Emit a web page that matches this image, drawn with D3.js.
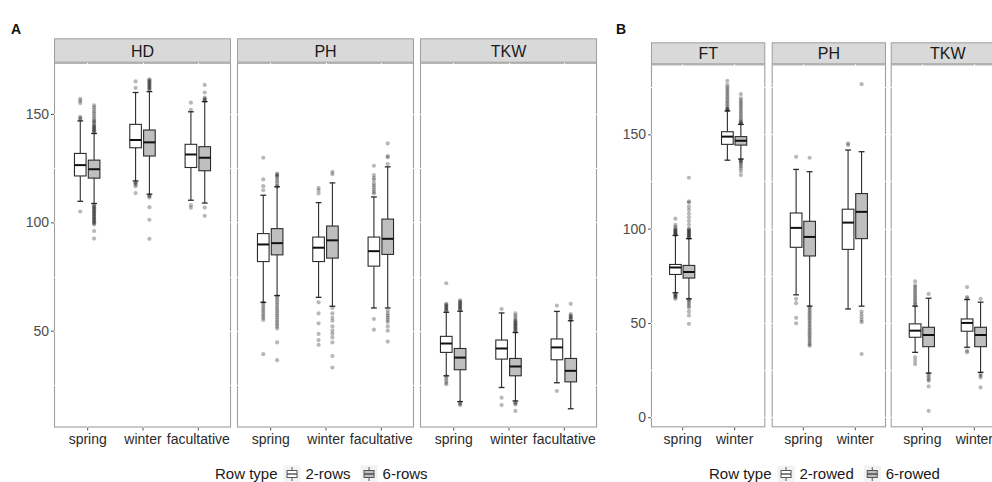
<!DOCTYPE html>
<html><head><meta charset="utf-8">
<script src="https://cdn.jsdelivr.net/npm/d3@7"></script>
<style>body{margin:0;background:#fff}svg{display:block;font-family:"Liberation Sans",Arial,sans-serif}</style>
</head><body><svg id="c" width="992" height="482"></svg>
<script>
// ---------- data ----------
const catsA = ["spring", "winter", "facultative"];
const traitsA = ["HD", "PH", "TKW"];
const rowTypesA = ["2-rows", "6-rows"];
const catsB = ["spring", "winter"];
const traitsB = ["FT", "PH", "TKW"];
const rowTypesB = ["2-rowed", "6-rowed"];
const yTicksA = [50, 100, 150];
const yTicksB = [0, 50, 100, 150];
const yMinorA = [25, 75, 125, 175];
const yMinorB = [25, 75, 125, 175];

// each row: [category, rowTypeIndex, whiskerLow, q1, median, q3, whiskerHigh, outliers]
const A_HD = [
  ["spring", 0, 109.7, 121.4, 126.4, 131.8, 146.8, [157, 156, 155, 148.7, 148, 147.5, 105]],
  ["spring", 1, 108.7, 120.4, 124.5, 128.7, 141, [154, 153, 152, 151, 150, 149, 148, 147, 146.5, 146, 145, 144.5, 144, 143.5, 143, 142.5, 142, 141.5, 108, 107.5, 107, 106.5, 106, 105.5, 105, 104.5, 104, 103.5, 103, 102.5, 102, 101.5, 101, 100.5, 100, 99.5, 99, 96, 92.5]],
  ["winter", 0, 119.1, 134.4, 138, 145.2, 159.9, [165, 162, 118.5, 118, 117.5, 116.6, 113.5]],
  ["winter", 1, 113, 130.6, 136.9, 142.6, 160.3, [166, 165.5, 165, 164.5, 164, 163.5, 163, 162.5, 162, 161.5, 161, 112.5, 112, 111.5, 107, 101.2, 92.4]],
  ["facultative", 0, 110.2, 125.3, 131.3, 136, 151, [155.2, 151.9, 107.9, 106.7]],
  ["facultative", 1, 108.9, 123.8, 129.8, 134.9, 155.7, [163.4, 159.9, 157.5, 157, 156.5, 156, 106.8, 103]]
];
const A_PH = [
  ["spring", 0, 63.1, 81.9, 89.8, 94.8, 112.5, [129.8, 119.8, 116.7, 114.8, 63, 62, 61, 60, 59, 58, 57, 56, 55, 39.2]],
  ["spring", 1, 66.2, 85, 90.4, 97.1, 116.4, [122.5, 122, 121.5, 121, 120, 119, 118, 117, 116.5, 66, 65, 64, 63, 62, 61, 60, 59, 58, 57, 56, 55, 54, 53, 52, 51, 44.6, 36.4]],
  ["winter", 0, 65.4, 81.9, 88.3, 93.2, 109.1, [115.9, 114.8, 113.3, 63.1, 58, 53.4, 48.5, 45.7, 43.5]],
  ["winter", 1, 61.3, 83.5, 91.7, 98.3, 118.2, [123.3, 122.2, 60.5, 58, 56, 54.6, 52, 50, 48.6, 46.9, 44.6, 38.3, 33]],
  ["facultative", 0, 60.5, 79.8, 86.7, 93.2, 111.7, [126.1, 121.8, 120.5, 119.5, 118, 117, 116, 115, 114, 113.3, 55.4, 50.5]],
  ["facultative", 1, 60.5, 85.2, 92.4, 101.5, 125.6, [136.4, 130.6, 130, 126.9, 59.3, 58, 57, 56, 55, 54, 52, 50, 45]]
];
const A_TKW = [
  ["spring", 0, 29.2, 40, 44.1, 47.4, 58.5, [71.9, 62.4, 62, 61.5, 61, 60.5, 60, 59.5, 59, 29, 28, 27, 26, 25.3]],
  ["spring", 1, 17.3, 32, 37.6, 41.8, 59, [64, 63.5, 63, 62.5, 62, 61.5, 61, 60.5, 60, 59.5, 16.8, 16.2, 15.7]],
  ["winter", 0, 23.8, 36.9, 41.8, 45.7, 58.2, [60, 19.1, 15.7]],
  ["winter", 1, 17.6, 29.2, 33.5, 37.2, 49.2, [58, 57, 56, 55, 54.5, 54, 53.5, 53, 52.5, 52, 51.5, 51, 50.5, 50, 49.5, 17, 16.5, 16, 13]],
  ["facultative", 0, 26, 36.6, 42.3, 46.2, 58.9, [61.6, 22.2]],
  ["facultative", 1, 14, 26.4, 31.5, 37.2, 54.6, [62.4, 57.7, 57, 56.5, 56, 55.5, 55]]
];
const B_FT = [
  ["spring", 0, 66, 75.7, 79.4, 81, 96.4, [105.3, 102, 101, 100, 99.5, 99, 98.5, 98, 97.5, 97, 96.8, 65.5, 65, 64.5, 64, 63.5, 62.8]],
  ["spring", 1, 62.8, 73.8, 77, 80.5, 94.7, [127, 114.5, 113.8, 111.7, 110, 108, 106, 104, 102, 100, 99.5, 99, 98.5, 98, 97.5, 97, 96.5, 96, 95.5, 95, 62.5, 62, 61, 60, 59, 58, 56, 54, 49.5]],
  ["winter", 0, 136.3, 144.7, 148.8, 151.4, 162.4, [178.4, 176.2, 175, 174, 173, 172, 171, 170, 169, 168, 167, 166, 165, 164, 163.5, 163, 162.8]],
  ["winter", 1, 136.9, 144.3, 146.6, 148.8, 155.3, [171.3, 169.1, 168, 167, 166, 165, 164, 163, 162, 161, 160, 159, 158, 157, 156.5, 156, 155.7, 136.5, 136, 135.5, 135, 134, 133, 132, 130.5, 128.4]]
];
const B_PH = [
  ["spring", 0, 64.9, 90.1, 100.4, 108.3, 131.4, [138.1, 62.8, 60.5, 52.7, 49.8]],
  ["spring", 1, 58.9, 85.5, 95.6, 103.9, 130.2, [137.6, 58.5, 57.5, 56.5, 55.5, 54.5, 53.5, 52.5, 51.5, 50.5, 49.5, 48.5, 47.5, 46.5, 45.5, 44.5, 43.5, 42.5, 41.5, 40.5, 39.5, 38.5, 37.9]],
  ["winter", 0, 57.4, 89, 103.2, 110.3, 141.7, [145.2, 144.3]],
  ["winter", 1, 58.9, 94.7, 108.9, 118.6, 140.8, [176.6, 56, 54.5, 53, 51.5, 50.4, 33.5]]
];
const B_TKW = [
  ["spring", 0, 34.4, 42.4, 45.9, 49.5, 58.9, [72, 69.9, 69, 68, 67, 66, 65, 64, 63, 62, 61, 60, 59.3, 31.8, 30, 28.2]],
  ["spring", 1, 23.4, 37.4, 43.6, 47.7, 63.1, [65.4, 23, 22, 21, 20, 19.3, 16.3, 3.4]],
  ["winter", 0, 37.1, 45.6, 50, 52.1, 62.4, [69, 63.7, 63, 35.3, 34.4]],
  ["winter", 1, 23.8, 37.4, 43.6, 47.7, 61, [62.8, 22.9, 22, 21.1, 15.8]]
];

// ---------- styling ----------
const fills = ["#ffffff", "#bfbfbf"];
const borderCol = "#9e9e9e";
const stripFill = "#d9d9d9";
const boxStroke = "#2b2b2b";

const svg = d3.select("#c");

function expandDomain(sets) {
  let lo = Infinity, hi = -Infinity;
  sets.forEach(s => s.forEach(r => {
    lo = Math.min(lo, r[2], ...r[7]);
    hi = Math.max(hi, r[6], ...r[7]);
  }));
  const pad = (hi - lo) * 0.05;
  return [lo - pad, hi + pad];
}

function drawRow(cfg) {
  const y = d3.scaleLinear().domain(expandDomain(cfg.sets)).range([cfg.bottom, cfg.top]);
  cfg.traits.forEach((trait, i) => {
    const left = cfg.lefts[i], right = left + cfg.width;
    const x = d3.scalePoint().domain(cfg.cats).range([left, right]).padding(0.6);
    const step = x.step();
    const g = svg.append("g");
    // strip
    g.append("rect").attr("x", left + 0.5).attr("y", cfg.stripTop + 0.5)
      .attr("width", cfg.width - 1).attr("height", cfg.top - cfg.stripTop - 1)
      .attr("fill", stripFill).attr("stroke", borderCol).attr("stroke-width", 1);
    g.append("text").attr("x", (left + right) / 2).attr("y", (cfg.stripTop + cfg.top) / 2 + 6)
      .attr("text-anchor", "middle").attr("font-size", 16).attr("fill", "#1a1a1a").text(trait);
    // panel border
    g.append("rect").attr("x", left + 0.5).attr("y", cfg.top + 0.5)
      .attr("width", cfg.width - 1).attr("height", cfg.bottom - cfg.top - 1)
      .attr("fill", "#fff").attr("stroke", borderCol).attr("stroke-width", 1.1);
    // white grid lines (drawn over border as in the reference)
    const grid = g.append("g").attr("stroke", "#ffffff").attr("stroke-width", 1);
    cfg.yTicks.concat(cfg.yMinor).filter(v => y(v) > cfg.top + 1 && y(v) < cfg.bottom - 1).forEach(v => {
      grid.append("line").attr("x1", left).attr("x2", right)
        .attr("y1", Math.round(y(v)) + 0.5).attr("y2", Math.round(y(v)) + 0.5);
    });
    cfg.cats.forEach(c => {
      grid.append("line").attr("x1", Math.round(x(c)) + 0.5).attr("x2", Math.round(x(c)) + 0.5)
        .attr("y1", cfg.top).attr("y2", cfg.bottom);
    });
    // x axis
    const ax = g.append("g").attr("transform", `translate(0,${cfg.bottom})`)
      .call(d3.axisBottom(x).tickSize(3).tickPadding(4));
    ax.select(".domain").remove();
    ax.selectAll("line").attr("stroke", "#555");
    ax.selectAll("text").attr("font-size", 14).attr("fill", "#2a2a2a").attr("font-family", "Liberation Sans, Arial, sans-serif");
    // y axis on first panel
    if (i === 0) {
      const ay = g.append("g").attr("transform", `translate(${left},0)`)
        .call(d3.axisLeft(y).tickValues(cfg.yTicks).tickSize(3).tickPadding(2));
      ay.select(".domain").remove();
      ay.selectAll("line").attr("stroke", "#555");
      ay.selectAll("text").attr("font-size", 14).attr("fill", "#4d4d4d").attr("font-family", "Liberation Sans, Arial, sans-serif");
    }
    // boxes
    const bw = step * cfg.boxW, off = step * cfg.dodge;
    const marks = g.append("g");
    cfg.sets[i].forEach(r => {
      const [cat, gi, lo, q1, med, q3, hi, outs] = r;
      const cx = x(cat) + (gi === 0 ? -off : off);
      // error bar caps
      marks.append("line").attr("x1", cx - bw / 4).attr("x2", cx + bw / 4).attr("y1", y(hi)).attr("y2", y(hi))
        .attr("stroke", boxStroke).attr("stroke-width", 1.3);
      marks.append("line").attr("x1", cx - bw / 4).attr("x2", cx + bw / 4).attr("y1", y(lo)).attr("y2", y(lo))
        .attr("stroke", boxStroke).attr("stroke-width", 1.3);
      // outliers
      outs.forEach(v => {
        marks.append("circle").attr("cx", cx).attr("cy", y(v)).attr("r", 2.1)
          .attr("fill", "#000").attr("fill-opacity", 0.28);
      });
      // whiskers
      marks.append("line").attr("x1", cx).attr("x2", cx).attr("y1", y(hi)).attr("y2", y(q3))
        .attr("stroke", boxStroke).attr("stroke-width", 1.1);
      marks.append("line").attr("x1", cx).attr("x2", cx).attr("y1", y(q1)).attr("y2", y(lo))
        .attr("stroke", boxStroke).attr("stroke-width", 1.1);
      // box
      marks.append("rect").attr("x", cx - bw / 2).attr("y", y(q3)).attr("width", bw).attr("height", y(q1) - y(q3))
        .attr("fill", fills[gi]).attr("stroke", boxStroke).attr("stroke-width", 1.1);
      marks.append("line").attr("x1", cx - bw / 2).attr("x2", cx + bw / 2).attr("y1", y(med)).attr("y2", y(med))
        .attr("stroke", "#111").attr("stroke-width", 2);
    });
  });
  // panel tag
  svg.append("text").attr("x", cfg.tagX).attr("y", 33.5).attr("font-size", 14).attr("font-weight", "bold")
    .attr("fill", "#111").text(cfg.tag);
  // legend
  const lg = svg.append("g");
  const ly = 474;
  const title = lg.append("text").attr("x", cfg.legendX).attr("y", ly + 5).attr("font-size", 15).attr("fill", "#1a1a1a").text("Row type");
  let cursor = cfg.legendX + title.node().getComputedTextLength() + 6;
  cfg.rowTypes.forEach((name, gi) => {
    const kx = cursor + 8.5;
    lg.append("rect").attr("x", kx - 8.5).attr("y", ly - 8.5).attr("width", 17).attr("height", 17).attr("fill", "#f2f2f2");
    lg.append("line").attr("x1", kx).attr("x2", kx).attr("y1", ly - 7).attr("y2", ly + 7).attr("stroke", "#555").attr("stroke-width", 1);
    lg.append("rect").attr("x", kx - 5).attr("y", ly - 3.5).attr("width", 10).attr("height", 7)
      .attr("fill", fills[gi]).attr("stroke", "#555").attr("stroke-width", 1);
    lg.append("line").attr("x1", kx - 5).attr("x2", kx + 5).attr("y1", ly).attr("y2", ly).attr("stroke", "#333").attr("stroke-width", 1.2);
    const t = lg.append("text").attr("x", cursor + 22).attr("y", ly + 5).attr("font-size", 15).attr("fill", "#1a1a1a").text(name);
    cursor = cursor + 22 + t.node().getComputedTextLength() + 10;
  });
}

drawRow({
  traits: traitsA, cats: catsA, rowTypes: rowTypesA, sets: [A_HD, A_PH, A_TKW],
  lefts: [54, 237, 420], width: 177, stripTop: 38.3, top: 62.7, bottom: 427.5,
  yTicks: yTicksA, yMinor: yMinorA, boxW: 0.21, dodge: 0.125,
  tag: "A", tagX: 11, legendX: 215
});
drawRow({
  traits: traitsB, cats: catsB, rowTypes: rowTypesB, sets: [B_FT, B_PH, B_TKW],
  lefts: [651, 771.7, 890.7], width: 114.3, stripTop: 42.3, top: 64.3, bottom: 427.3,
  yTicks: yTicksB, yMinor: yMinorB, boxW: 0.225, dodge: 0.13,
  tag: "B", tagX: 616, legendX: 709
});
</script></body></html>
